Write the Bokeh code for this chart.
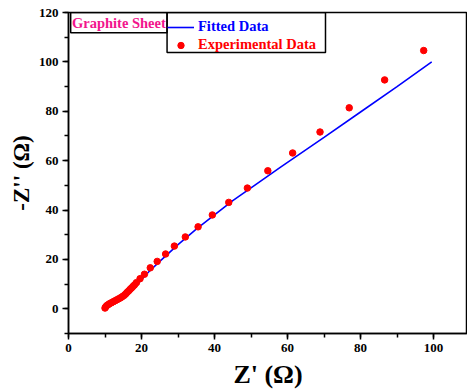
from bokeh.plotting import figure
from bokeh.models import (Range1d, SingleIntervalTicker, Legend, LegendItem,
                          BoxAnnotation, Label)
from bokeh.embed import file_html
from bokeh.resources import INLINE

# Experimental data (Z', -Z'')
exp_x = [10.0, 10.2, 10.5, 10.9, 11.3, 11.8, 12.3, 12.8, 13.3, 13.8, 14.3, 14.8,
         15.3, 15.7, 16.1, 16.5, 16.9, 17.3, 17.7, 18.1, 18.6, 19.6,
         20.8, 22.4, 24.3, 26.6, 29.0, 32.0, 35.5, 39.4, 43.9, 49.0, 54.6,
         61.4, 68.9, 76.9, 86.6, 97.3]
exp_y = [0.3, 0.8, 1.3, 1.7, 2.1, 2.5, 2.9, 3.3, 3.7, 4.1, 4.5, 5.0,
         5.5, 6.1, 6.7, 7.3, 7.9, 8.5, 9.1, 9.7, 10.6, 12.2,
         14.0, 16.6, 19.2, 22.2, 25.4, 29.1, 33.2, 38.0, 43.1, 48.9, 55.9,
         63.1, 71.6, 81.4, 92.7, 104.6]

# Fitted data
fit_x = [10.0, 11.5, 13.5, 15.5, 17.5, 19.5, 22.0, 25.0, 30.0, 35.0, 40.0,
         45.0, 50.0, 58.0, 70.0, 80.0, 90.0, 99.5]
fit_y = [0.3, 2.0, 3.6, 5.4, 8.0, 11.0, 15.0, 19.2, 26.0, 32.3, 38.0,
         43.8, 49.0, 57.3, 69.4, 79.7, 90.0, 100.0]

FONT = "Liberation Serif"

p = figure(width=467, height=392, output_backend="svg", toolbar_location=None,
           x_range=Range1d(0, 109.3), y_range=Range1d(-10, 120),
           min_border_left=68, min_border_right=0, min_border_top=12,
           min_border_bottom=59)
p.grid.visible = False
p.outline_line_color = "black"
p.outline_line_width = 1.5
p.background_fill_color = "white"
p.border_fill_color = "white"

line_r = p.line(fit_x, fit_y, line_color="#0000FF", line_width=1.6)
sc_r = p.scatter(exp_x, exp_y, size=6.5, fill_color="#FF0000", line_color="#FF0000")

for ax in (p.xaxis[0], p.yaxis[0]):
    ax.ticker = SingleIntervalTicker(interval=20, num_minor_ticks=2)
    ax.axis_line_width = 1.5
    ax.major_tick_line_width = 1.5
    ax.minor_tick_line_width = 1.5
    ax.major_tick_out = 6
    ax.major_tick_in = 0
    ax.minor_tick_out = 4
    ax.minor_tick_in = 0
    ax.major_label_text_font = FONT
    ax.major_label_text_font_style = "bold"
    ax.major_label_text_font_size = "13px"
    ax.major_label_text_color = "black"
    ax.axis_label_text_font = FONT
    ax.axis_label_text_font_style = "bold"
    ax.axis_label_text_color = "black"

p.xaxis.axis_label = "Z' (Ω)"
p.yaxis.axis_label = "-Z'' (Ω)"
p.xaxis.axis_label_text_font_size = "26px"
p.yaxis.axis_label_text_font_size = "23px"
p.xaxis.major_label_standoff = 4
p.xaxis.axis_label_standoff = 5
p.yaxis.major_label_standoff = 4
p.yaxis.axis_label_standoff = 2

# legend frame
p.add_layout(BoxAnnotation(left=27.0, right=70.4, top=120, bottom=103.8,
                           fill_color=None, fill_alpha=0, line_color="black",
                           line_alpha=1.0, line_width=1.5))
p.add_layout(BoxAnnotation(left=0.6, right=27.0, top=120, bottom=111.8,
                           fill_color=None, fill_alpha=0, line_color="black",
                           line_alpha=1.0, line_width=1.5))
p.add_layout(Label(x=13.8, y=115.9, text="Graphite Sheet", text_align="center",
                   text_baseline="middle", text_font=FONT, text_font_style="bold",
                   text_font_size="14.5px", text_color="#F2158C"))

def mk_legend(label, rend, color, loc):
    lg = Legend(items=[LegendItem(label=label, renderers=[rend])], location=loc,
                orientation="vertical", padding=0, margin=0, spacing=0,
                glyph_width=27, glyph_height=16, label_height=16,
                label_standoff=4, border_line_alpha=0, background_fill_alpha=0,
                label_text_font=FONT, label_text_font_style="bold",
                label_text_font_size="14.5px", label_text_color=color)
    p.add_layout(lg, "center")

mk_legend("Fitted Data", line_r, "#0000FF", (99, 298))
mk_legend("Experimental Data", sc_r, "#FF0000", (99, 280))

open("out.html", "w").write(file_html(p, INLINE))
